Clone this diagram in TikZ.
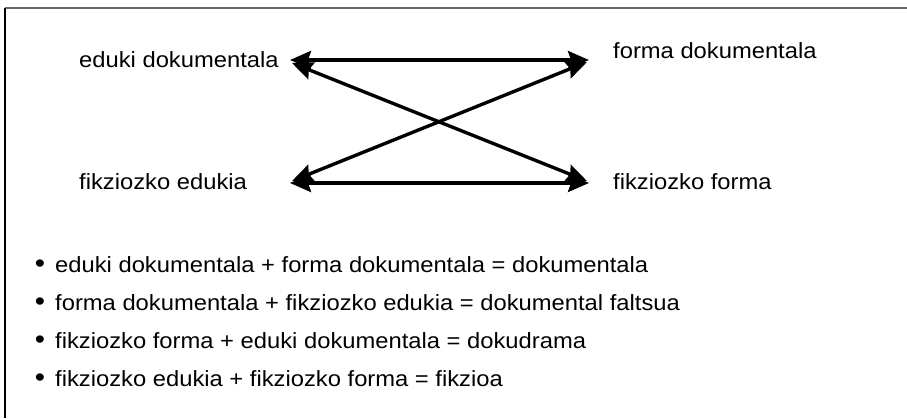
\documentclass[tikz,border=0pt]{standalone}
\usepackage{fontspec}
\setmainfont{Liberation Sans}[FakeStretch=1.08]
\usetikzlibrary{arrows.meta}
\begin{document}
\begin{tikzpicture}[x=1pt,y=-1pt,
  lbl/.style={anchor=base west,inner sep=0pt,font=\fontsize{22}{26}\selectfont},
  bul/.style={inner sep=0pt,font=\fontsize{27}{30}\selectfont},
  link/.style={line width=3.4pt,{Stealth[length=21pt,width=18pt,inset=3pt]}-{Stealth[length=21pt,width=18pt,inset=3pt]}}]
\useasboundingbox (0,0) rectangle (907,418);
\draw[line width=1.8pt,color=black!60] (5,8) -- (907,8);
\draw[line width=1.5pt] (5,8) -- (5,418);
% labels
\node[lbl] (ed) at (79,67) {eduki dokumentala};
\node[lbl] (fd) at (613,58) {forma dokumentala};
\node[lbl] (fe) at (79,189) {fikziozko edukia};
\node[lbl] (ff) at (613,189) {fikziozko forma};
% arrow tips
\coordinate (tl) at (290,60);
\coordinate (tr) at (589,60);
\coordinate (bl) at (290,183);
\coordinate (br) at (589,183);
\coordinate (dtl) at (292,63);
\coordinate (dbr) at (587,181);
\coordinate (dtr) at (587,62);
\coordinate (dbl) at (292,181);
\draw[link] (tl) -- (tr);
\draw[link] (bl) -- (br);
\draw[link] (dtl) -- (dbr);
\draw[link] (dtr) -- (dbl);
% bullet list
\node[bul] (b1) at (40,266) {•};
\node[lbl] (t1) at (55,272) {eduki dokumentala + forma dokumentala = dokumentala};
\node[bul] (b2) at (40,304) {•};
\node[lbl] (t2) at (55,310) {forma dokumentala + fikziozko edukia = dokumental faltsua};
\node[bul] (b3) at (40,342) {•};
\node[lbl] (t3) at (55,348) {fikziozko forma + eduki dokumentala = dokudrama};
\node[bul] (b4) at (40,380) {•};
\node[lbl] (t4) at (55,386) {fikziozko edukia + fikziozko forma = fikzioa};
\end{tikzpicture}
\end{document}
